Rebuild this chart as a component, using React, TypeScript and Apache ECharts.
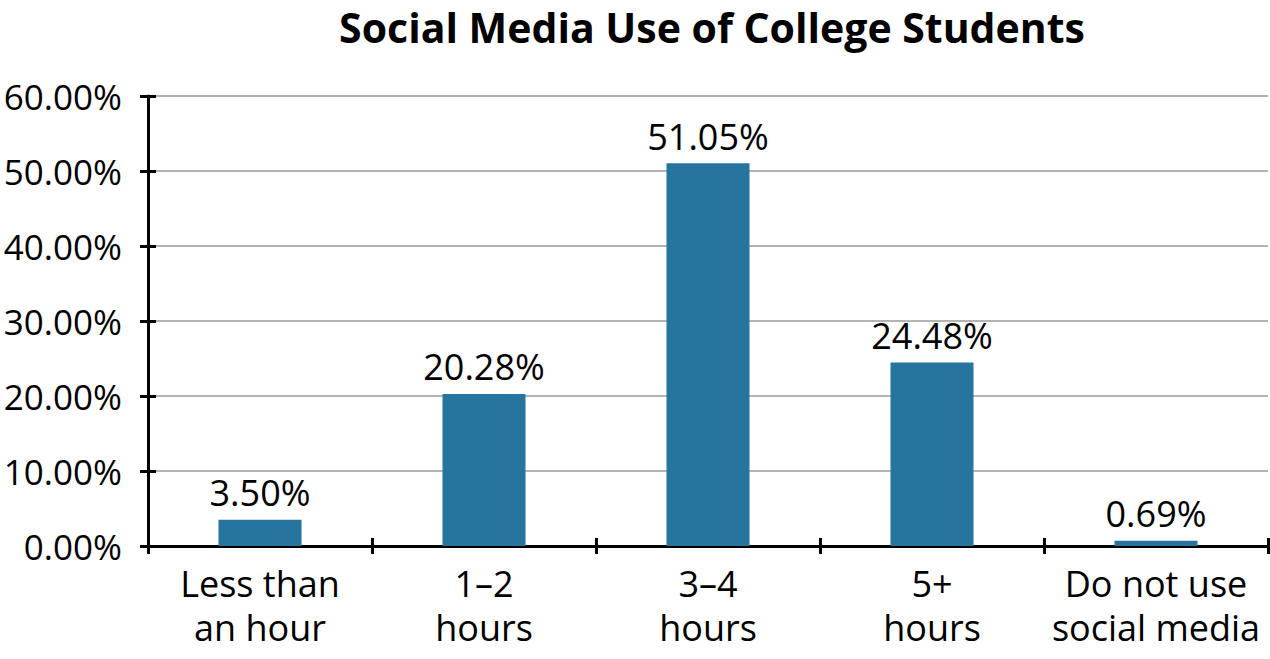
import React, { useEffect, useRef } from "react";
import * as echarts from "echarts";

const categories = ["Less than\nan hour", "1–2\nhours", "3–4\nhours", "5+\nhours", "Do not use\nsocial media"];
const values = [3.5, 20.28, 51.05, 24.48, 0.69];
const yTicks = { min: 0, max: 60, interval: 10 };
const titleText = "Social Media Use of College Students";

export default function App() {
  const ref = useRef<HTMLDivElement>(null);
  useEffect(() => {
    const chart = echarts.init(ref.current!, null, { renderer: "svg" });
    const font = "'Open Sans', 'Noto Sans', sans-serif";
    const axisLineStyle = { color: "#000", width: 3 };
    chart.setOption({
      animation: false,
      textStyle: { fontFamily: font },
      title: {
        text: titleText,
        left: 707,
        textAlign: "center",
        top: 1,
        textStyle: { fontFamily: font, fontWeight: "bold", fontSize: 41, color: "#000" },
      },
      grid: { left: 148, right: 2, top: 96, bottom: 113, containLabel: false },
      xAxis: [
        {
          type: "category",
          data: categories,
          axisLine: { lineStyle: axisLineStyle },
          axisTick: { show: true, inside: false, length: 8, lineStyle: { color: "#000", width: 3 } },
          axisLabel: { color: "#000", fontSize: 36, fontFamily: font, lineHeight: 44, margin: 15, interval: 0 },
        },
        {
          type: "category",
          data: categories,
          position: "bottom",
          axisLine: { show: false },
          axisTick: { show: true, inside: true, length: 8, lineStyle: { color: "#000", width: 3 } },
          axisLabel: { show: false },
        },
      ],
      yAxis: [
        {
          type: "value",
          min: yTicks.min,
          max: yTicks.max,
          interval: yTicks.interval,
          axisLine: { show: true, lineStyle: axisLineStyle },
          axisTick: { show: true, inside: false, length: 8, lineStyle: { color: "#000", width: 3 } },
          axisLabel: {
            color: "#000",
            fontSize: 35,
            fontFamily: font,
            margin: 26,
            formatter: (v: number) => v.toFixed(2) + "%",
          },
          splitLine: { show: true, lineStyle: { color: "#b3b3b3", width: 2 } },
        },
        {
          type: "value",
          min: yTicks.min,
          max: yTicks.max,
          interval: yTicks.interval,
          position: "left",
          axisLine: { show: false },
          axisTick: { show: true, inside: true, length: 8, lineStyle: { color: "#000", width: 3 } },
          axisLabel: { show: false },
          splitLine: { show: false },
        },
      ],
      series: [
        {
          type: "bar",
          data: values,
          barWidth: 83,
          itemStyle: { color: "#2874a0" },
          label: {
            show: true,
            position: "top",
            distance: 9,
            color: "#000",
            fontSize: 36,
            fontFamily: font,
            formatter: (p: any) => Number(p.value).toFixed(2) + "%",
          },
          z: 1,
        },
      ],
    });
    return () => chart.dispose();
  }, []);
  return <div ref={ref} style={{ width: 1270, height: 659, position: "absolute", left: 0, top: 0 }} />;
}
